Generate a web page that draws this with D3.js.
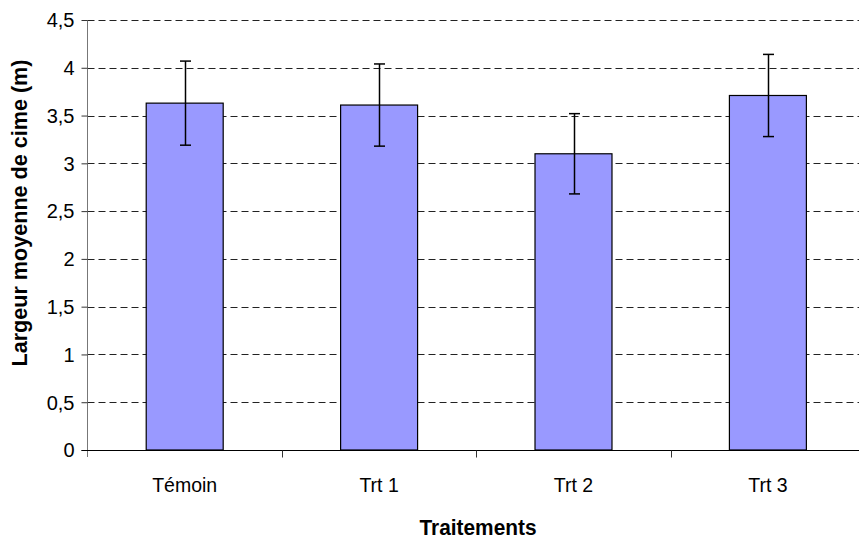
<!DOCTYPE html>
<html><head><meta charset="utf-8">
<script src="https://cdn.jsdelivr.net/npm/d3@7/dist/d3.min.js"></script>
<style>html,body{margin:0;padding:0;background:#fff;} svg{display:block;font-family:"Liberation Sans",Arial,sans-serif;}</style>
</head><body>
<script>
const categories = ["Témoin", "Trt 1", "Trt 2", "Trt 3"];
const means = [3.63, 3.61, 3.10, 3.71];
const errors = [0.44, 0.43, 0.42, 0.43];
const yTicks = [0, 0.5, 1, 1.5, 2, 2.5, 3, 3.5, 4, 4.5];
const yTickLabels = ["0", "0,5", "1", "1,5", "2", "2,5", "3", "3,5", "4", "4,5"];
const xTitle = "Traitements";
const yTitle = "Largeur moyenne de cime (m)";

(function () {
const W = 859, H = 540;
const mLeft = 87.5, mTop = 20, mBottom = 450;
const step = 194.4;
const svg = d3.select("body").append("svg").attr("width", W).attr("height", H);

const x = d3.scaleBand().domain(categories).range([mLeft, mLeft + step * categories.length]).padding(0);
const y = d3.scaleLinear().domain([0, 4.5]).range([mBottom, mTop]);
const barW = x.bandwidth() * 0.396;
const xRight = mLeft + step * categories.length;

// gridlines
svg.append("g").selectAll("line").data(yTicks.filter(d => d > 0)).join("line")
  .attr("x1", mLeft).attr("x2", xRight)
  .attr("y1", d => Math.round(y(d)) + 0.5).attr("y2", d => Math.round(y(d)) + 0.5)
  .attr("stroke", "#222").attr("stroke-width", 1).attr("stroke-dasharray", "7,4");

// bars
svg.append("g").selectAll("rect").data(categories).join("rect")
  .attr("x", d => x(d) + x.bandwidth() / 2 - barW / 2)
  .attr("y", (d, i) => y(means[i]))
  .attr("width", barW)
  .attr("height", (d, i) => y(0) - y(means[i]))
  .attr("fill", "#9999FF").attr("stroke", "#000").attr("stroke-width", 1.2);

// error bars
const eb = svg.append("g").attr("stroke", "#000").attr("stroke-width", 1.5);
categories.forEach((c, i) => {
  const cx = Math.round(x(c) + x.bandwidth() / 2) + 0.5;
  const y1 = y(means[i] + errors[i]), y2 = y(means[i] - errors[i]);
  eb.append("line").attr("x1", cx).attr("x2", cx).attr("y1", y1).attr("y2", y2);
  eb.append("line").attr("x1", cx - 5.5).attr("x2", cx + 5.5).attr("y1", y1).attr("y2", y1);
  eb.append("line").attr("x1", cx - 5.5).attr("x2", cx + 5.5).attr("y1", y2).attr("y2", y2);
});

// y axis
const yAxis = d3.axisLeft(y).tickValues(yTicks).tickSize(6).tickPadding(7)
  .tickFormat((d, i) => yTickLabels[i]);
const gy = svg.append("g").attr("transform", `translate(${mLeft},0)`).call(yAxis);
gy.select(".domain").attr("d", `M0,${mTop}V${mBottom + 7}`).attr("stroke", "#777");
gy.selectAll(".tick line").attr("stroke", "#333");
gy.selectAll(".tick text").attr("font-size", 20).attr("font-family", "Liberation Sans, Arial, sans-serif").attr("fill", "#000").attr("dy", "0.34em");

// x axis
const xTickScale = d3.scaleLinear().domain([0, categories.length]).range([mLeft, xRight]);
const gx = svg.append("g").attr("transform", `translate(0,${Math.round(mBottom) + 0.5})`);
gx.append("line").attr("x1", mLeft - 6).attr("x2", xRight).attr("y1", 0).attr("y2", 0).attr("stroke", "#000").attr("stroke-width", 1.2);
gx.selectAll(".xt").data(d3.range(1, categories.length + 1)).join("line").attr("class", "xt")
  .attr("x1", d => Math.round(xTickScale(d)) + 0.5).attr("x2", d => Math.round(xTickScale(d)) + 0.5)
  .attr("y1", 0).attr("y2", 7).attr("stroke", "#333");
gx.selectAll("text").data(categories).join("text")
  .attr("x", d => x(d) + x.bandwidth() / 2).attr("y", 41.5)
  .attr("text-anchor", "middle").attr("font-size", 19.5).attr("fill", "#000").text(d => d);

// titles
svg.append("text").attr("x", 478).attr("y", 535).attr("text-anchor", "middle")
  .attr("font-size", 22).attr("font-weight", "bold").attr("textLength", 117).attr("lengthAdjust", "spacingAndGlyphs").text(xTitle);
svg.append("text").attr("transform", "translate(27,213) rotate(-90)").attr("text-anchor", "middle")
  .attr("font-size", 22).attr("font-weight", "bold").attr("textLength", 307).attr("lengthAdjust", "spacingAndGlyphs").text(yTitle);
})();
</script>
</body></html>
